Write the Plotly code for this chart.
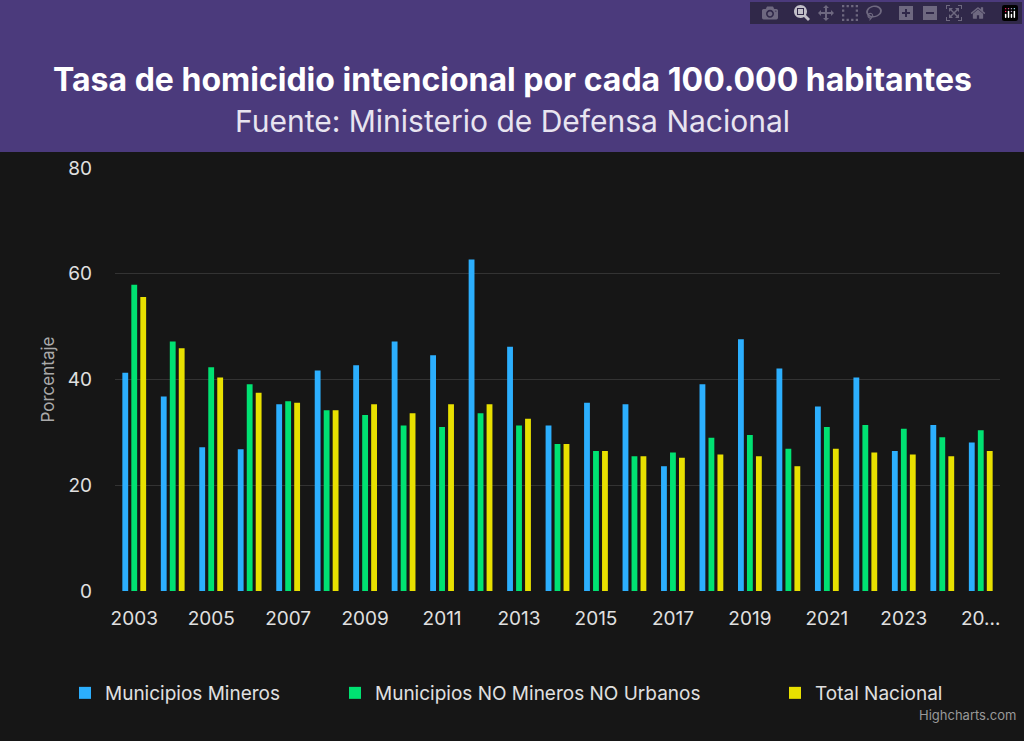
import plotly.graph_objects as go

years = list(range(2003, 2026))
mineros = [41.3, 36.8, 27.2, 26.8, 35.3, 41.7, 42.7, 47.2, 44.6, 62.7, 46.2, 31.3,
           35.6, 35.3, 23.6, 39.1, 47.6, 42.1, 34.9, 40.4, 26.5, 31.4, 28.1]
no_mineros = [57.9, 47.2, 42.3, 39.1, 35.9, 34.2, 33.3, 31.3, 31.0, 33.6, 31.3, 27.8,
              26.5, 25.5, 26.2, 29.0, 29.5, 26.9, 31.0, 31.4, 30.7, 29.1, 30.4]
total = [55.6, 45.9, 40.4, 37.5, 35.6, 34.2, 35.3, 33.6, 35.3, 35.3, 32.6, 27.8,
         26.5, 25.5, 25.2, 25.8, 25.5, 23.6, 26.9, 26.2, 25.8, 25.5, 26.5]
tick_years = list(range(2003, 2026, 2))
tick_text = [str(y) for y in tick_years[:-1]] + ["20…"]

W, H = 1024, 741
ml, mr, mt, mb = 115, 24, 168, 150
pw, ph = W - ml - mr, H - mt - mb

series = [("Municipios Mineros", mineros, "#2caffe", 65),
          ("Municipios NO Mineros NO Urbanos", no_mineros, "#00e272", 335),
          ("Total Nacional", total, "#e8e000", 775)]

fig = go.Figure()
legends = {}
for i, (name, vals, col, lx) in enumerate(series):
    key = "legend" if i == 0 else f"legend{i + 1}"
    fig.add_trace(go.Bar(x=years, y=vals, name=name, marker_color=col,
                         marker_line_width=0, legend=key))
    legends[key] = dict(x=(lx - ml) / pw, xanchor="left", y=-(674 - 591) / ph,
                        yanchor="top", font=dict(size=19, color="#e0e0e0"),
                        bgcolor="rgba(0,0,0,0)")

fig.add_shape(type="rect", xref="paper", yref="paper",
              x0=-ml / pw, x1=1 + mr / pw, y0=1 + (mt - 152) / ph, y1=1 + mt / ph,
              fillcolor="#4b3a7c", line_width=0, layer="below")
fig.add_annotation(text="<b>Tasa de homicidio intencional por cada 100.000 habitantes</b>",
                   xref="paper", yref="paper", x=(W / 2 - ml) / pw, y=1 + (mt - 58) / ph,
                   showarrow=False, font=dict(size=32, color="white", family="Inter"))
fig.add_annotation(text="Fuente: Ministerio de Defensa Nacional",
                   xref="paper", yref="paper", x=(W / 2 - ml) / pw, y=1 + (mt - 101) / ph,
                   showarrow=False, font=dict(size=30, color="#e8e4f0", family="Inter"))
fig.add_annotation(text="Highcharts.com", xref="paper", yref="paper",
                   x=1 + 18 / pw, y=-(725 - 591) / ph, xanchor="right",
                   showarrow=False, font=dict(size=13, color="#999999", family="Inter"))

fig.update_layout(
    width=W, height=H,
    margin=dict(l=ml, r=mr, t=mt, b=mb),
    paper_bgcolor="#161616", plot_bgcolor="#161616",
    font=dict(family="Inter", color="#e0e0e0"),
    barmode="group", bargap=0.3, bargroupgap=0.35,
    showlegend=True,
    xaxis=dict(tickvals=tick_years, ticktext=tick_text, tickfont=dict(size=19),
               showgrid=False, range=[2002.5, 2025.5], ticks="", ticklabelstandoff=14),
    yaxis=dict(range=[0, 80], dtick=20, gridcolor="#333333", zeroline=False,
               tickfont=dict(size=19), ticklabelstandoff=22,
               title=dict(text="Porcentaje", font=dict(size=17, color="#aaaaaa"),
                          standoff=8)),
    **legends,
)
fig.write_html("out.html", post_script="document.body.style.margin='0';")
